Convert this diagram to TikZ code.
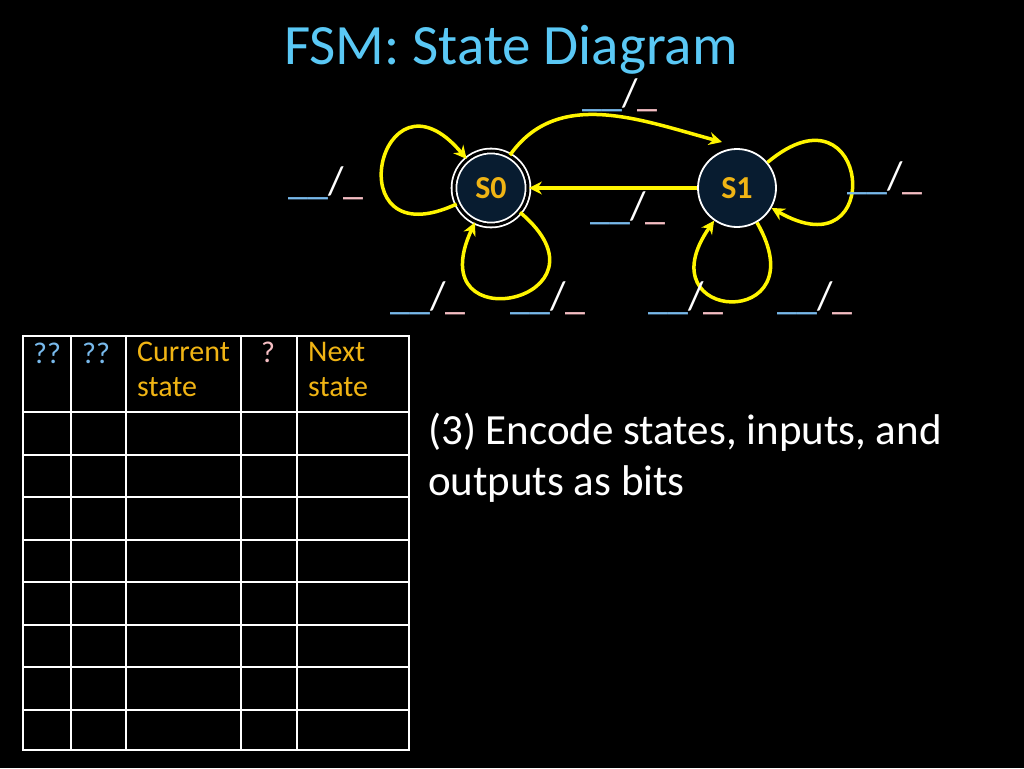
\documentclass[tikz,border=0pt]{standalone}
\usepackage{fontspec}
\setmainfont{Carlito}
\usetikzlibrary{arrows.meta}
\definecolor{ttl}{RGB}{90,200,245}
\definecolor{lblue}{RGB}{120,185,235}
\definecolor{lpink}{RGB}{245,190,195}
\definecolor{gold}{RGB}{240,180,20}
\definecolor{sfill}{RGB}{8,28,48}
\definecolor{yel}{RGB}{255,245,0}
\begin{document}
\begin{tikzpicture}[x=1pt,y=-1pt,
 st/.style={circle,draw=white,line width=1.8pt,fill=sfill,minimum size=78pt,inner sep=0pt,text=gold,font=\bfseries\fontsize{32}{36}\selectfont},
 tr/.style={draw=yel,line width=3.5pt,-{Stealth[length=13pt,width=13pt]}},
 lbl/.style={font=\fontsize{40}{40}\selectfont,text=white,inner sep=0pt},
 hd/.style={anchor=north west,align=left,font=\fontsize{30}{35}\selectfont,inner sep=0pt}]
\useasboundingbox[fill=black] (0,0) rectangle (1024,768);
\newcommand{\tlab}{\textcolor{lblue}{\_\_}/\textcolor{lpink}{\_}}
\node[text=ttl,font=\fontsize{57}{60}\selectfont] (title) at (511,50) {FSM: State Diagram};
\node[st,double=black,double distance=3pt,minimum size=74pt] (s0) at (491,188) {S0};
\node[st] (s1) at (737,188) {S1};
\draw[tr] (s0.60) to[out=55,in=165] (722,142) coordinate (t1);
\draw[tr] (s1) -- (s0);
\draw[tr,looseness=7.5] (s0.205) to[out=205,in=130] (s0.130);
\draw[tr,looseness=7.5] (s0.-40) to[out=-40,in=-115] (s0.-115);
\draw[tr,looseness=7.5] (s1.40) to[out=40,in=-30] (s1.-30);
\draw[tr,looseness=7.5] (s1.-60) to[out=-60,in=-125] (s1.-125);
\node[lbl] (l1) at (620,95) {\tlab};
\node[lbl] (l2) at (326,183) {\tlab};
\node[lbl] (l3) at (628,208) {\tlab};
\node[lbl] (l4) at (885,178) {\tlab};
\node[lbl] (l5) at (428,298) {\tlab};
\node[lbl] (l6) at (548,298) {\tlab};
\node[lbl] (l7) at (686,298) {\tlab};
\node[lbl] (l8) at (815,298) {\tlab};
% table
\foreach \y in {412,455,497,540,582,625,667,710}
  \draw[white,line width=1.3pt] (23,\y) -- (409,\y);
\foreach \x in {71,126,297}
  \draw[white,line width=1.3pt] (\x,336) -- (\x,750);
\draw[white,line width=2.5pt] (241,336) -- (241,750);
\draw[white,line width=2.8pt] (23,336) rectangle (409,750);
\node[hd,text=lblue] (h1) at (33,343) {??};
\node[hd,text=lblue] (h2) at (82,343) {??};
\node[hd,text=gold] (h3) at (137,342) {Current\\state};
\node[hd,text=lpink] (h4) at (261,342) {?};
\node[hd,text=gold] (h5) at (308,342) {Next\\state};
\node[anchor=north west,align=left,text=white,font=\fontsize{43}{51}\selectfont,inner sep=0pt] (txt) at (428,413) {(3) Encode states, inputs, and\\outputs as bits};
\end{tikzpicture}
\end{document}
